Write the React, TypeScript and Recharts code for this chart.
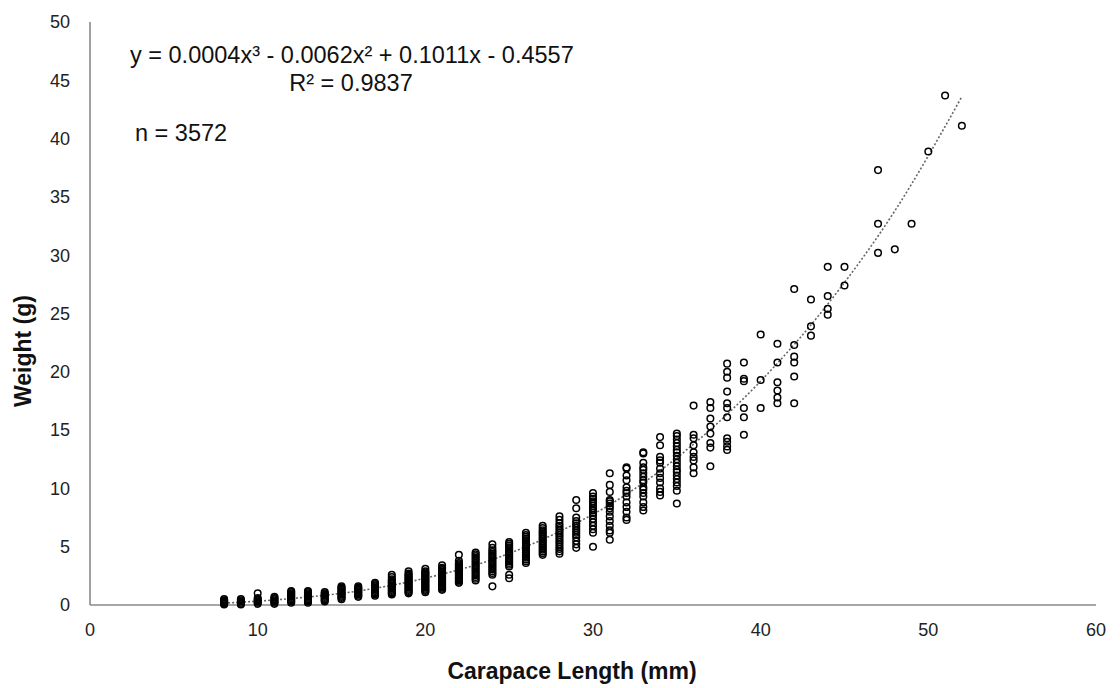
import React from 'react';
import { ComposedChart, Scatter, Line, XAxis, YAxis } from 'recharts';

// carapace length (mm) of each sampled column
const lengths = [
  8, 9, 10, 11, 12, 13, 14, 15, 16, 17, 18, 19, 20, 21, 22, 23, 24, 25, 26, 27, 28, 29, 30,
  31, 32, 33, 34, 35, 36, 37, 38, 39, 40, 41, 42, 43, 44, 45, 47, 48, 49, 50, 51, 52,
];

// weights (g) read from each column
const weights: number[][] = [
  [0.05, 0.1, 0.15, 0.2, 0.25, 0.3, 0.35, 0.4, 0.5],
  [0.05, 0.1, 0.2, 0.3, 0.4, 0.5],
  [0.1, 0.2, 0.3, 0.4, 0.5, 0.6, 1.0],
  [0.1, 0.2, 0.3, 0.4, 0.5, 0.6, 0.7],
  [0.2, 0.3, 0.4, 0.5, 0.6, 0.7, 0.8, 0.9, 1.0, 1.1, 1.2],
  [0.2, 0.3, 0.4, 0.5, 0.6, 0.7, 0.8, 0.9, 1.0, 1.1, 1.2],
  [0.3, 0.4, 0.5, 0.6, 0.7, 0.8, 0.9, 1.0, 1.1],
  [0.5, 0.6, 0.7, 0.8, 0.9, 1.0, 1.1, 1.2, 1.3, 1.4, 1.5, 1.6],
  [0.7, 0.8, 0.9, 1.0, 1.1, 1.2, 1.3, 1.4, 1.5, 1.6],
  [0.8, 0.9, 1.0, 1.1, 1.2, 1.3, 1.4, 1.5, 1.6, 1.7, 1.8, 1.9],
  [0.9, 1.0, 1.1, 1.2, 1.3, 1.4, 1.5, 1.6, 1.7, 1.8, 1.9, 2.0, 2.1, 2.2, 2.4, 2.6],
  [1.0, 1.1, 1.2, 1.3, 1.4, 1.5, 1.6, 1.7, 1.8, 1.9, 2.0, 2.1, 2.2, 2.3, 2.4, 2.5, 2.6, 2.7, 2.9],
  [1.1, 1.2, 1.3, 1.4, 1.5, 1.6, 1.7, 1.8, 1.9, 2.0, 2.1, 2.2, 2.3, 2.4, 2.5, 2.6, 2.7, 2.8, 2.9, 3.1],
  [1.3, 1.4, 1.5, 1.6, 1.7, 1.8, 1.9, 2.0, 2.1, 2.2, 2.3, 2.4, 2.5, 2.6, 2.7, 2.8, 2.9, 3.0, 3.1, 3.2, 3.4],
  [1.9, 2.0, 2.1, 2.2, 2.3, 2.4, 2.5, 2.6, 2.7, 2.8, 2.9, 3.0, 3.1, 3.2, 3.3, 3.4, 3.5, 3.6, 3.8, 4.3],
  [2.1, 2.25, 2.4, 2.55, 2.7, 2.85, 3.0, 3.15, 3.3, 3.45, 3.6, 3.75, 3.9, 4.05, 4.2, 4.35, 4.5],
  [1.6, 2.6, 2.75, 2.9, 3.05, 3.2, 3.35, 3.5, 3.65, 3.8, 3.95, 4.1, 4.25, 4.4, 4.55, 4.7, 4.9, 5.2],
  [2.3, 2.6, 3.3, 3.45, 3.6, 3.75, 3.9, 4.05, 4.2, 4.35, 4.5, 4.65, 4.8, 4.95, 5.1, 5.25, 5.4],
  [3.6, 3.75, 3.9, 4.05, 4.2, 4.35, 4.5, 4.65, 4.8, 4.95, 5.1, 5.25, 5.4, 5.55, 5.7, 5.85, 6.0, 6.2],
  [4.3, 4.45, 4.6, 4.75, 4.9, 5.05, 5.2, 5.35, 5.5, 5.65, 5.8, 5.95, 6.1, 6.25, 6.4, 6.6, 6.8],
  [4.4, 4.6, 4.8, 5.0, 5.2, 5.4, 5.6, 5.8, 6.0, 6.2, 6.4, 6.6, 6.8, 7.0, 7.3, 7.6],
  [4.9, 5.2, 5.5, 5.8, 6.0, 6.2, 6.4, 6.6, 6.8, 7.0, 7.2, 7.5, 8.3, 9.0],
  [5.0, 6.2, 6.5, 6.8, 7.1, 7.4, 7.7, 7.9, 8.1, 8.3, 8.5, 8.7, 8.9, 9.1, 9.3, 9.6],
  [5.6, 6.2, 6.4, 6.8, 7.2, 7.6, 8.0, 8.3, 8.5, 8.7, 8.9, 9.0, 9.7, 10.3, 11.3],
  [7.3, 7.5, 8.0, 8.4, 8.8, 9.3, 9.6, 9.8, 10.1, 10.7, 11.1, 11.7, 11.8],
  [8.1, 8.4, 8.8, 9.3, 9.6, 9.9, 10.1, 10.5, 10.7, 11.0, 11.3, 11.6, 11.8, 12.2, 13.0, 13.1],
  [9.4, 9.7, 10.0, 10.5, 10.9, 11.3, 11.7, 12.2, 12.4, 12.7, 13.7, 14.4],
  [8.7, 9.8, 10.2, 10.5, 10.8, 11.1, 11.4, 11.6, 11.9, 12.2, 12.5, 12.8, 13.1, 13.3, 13.6, 13.9, 14.2, 14.5, 14.7],
  [11.3, 11.8, 12.4, 12.7, 13.1, 13.7, 14.3, 14.6, 17.1],
  [11.9, 13.5, 13.9, 14.7, 15.3, 16.0, 16.9, 17.4],
  [13.3, 13.6, 14.0, 14.3, 16.1, 16.9, 17.3, 18.3, 19.5, 20.0, 20.7],
  [14.6, 16.1, 16.9, 19.2, 19.4, 20.8],
  [16.9, 19.3, 23.2],
  [17.3, 17.8, 18.4, 19.1, 20.8, 22.4],
  [17.3, 19.6, 20.8, 21.3, 22.3, 27.1],
  [23.1, 23.9, 26.2],
  [24.9, 25.4, 26.5, 29.0],
  [27.4, 29.0],
  [30.2, 32.7, 37.3],
  [30.5],
  [32.7],
  [38.9],
  [43.7],
  [41.1],
];

// dotted trendline
const trendX = [8, 12, 16, 20, 24, 28, 32, 36, 40, 44, 48, 52];
const trendY = [0.16, 0.55, 1.2, 2.3, 3.9, 6.3, 9.5, 13.8, 19.2, 25.8, 33.8, 43.6];

const xTicks = [0, 10, 20, 30, 40, 50, 60];
const yTicks = [0, 5, 10, 15, 20, 25, 30, 35, 40, 45, 50];

const points = lengths.flatMap((x, i) => weights[i].map((y) => ({ x, y })));
const trend = trendX.map((x, i) => ({ x, y: trendY[i] }));

const font = '"Liberation Sans", Arial, sans-serif';

const OpenCircle = (props: any) => {
  const { cx, cy } = props;
  if (cx == null || cy == null) return null;
  return <circle cx={cx} cy={cy} r={3.3} fill="none" stroke="#000" strokeWidth={1.5} />;
};

export default function App() {
  return (
    <div style={{ position: 'absolute', left: 0, top: 0, width: 1120, height: 688, background: '#fff' }}>
      <ComposedChart
        width={1120}
        height={688}
        margin={{ top: 22, right: 24, bottom: 43, left: 0 }}
        style={{ fontFamily: font }}
      >
        <XAxis
          type="number"
          dataKey="x"
          domain={[0, 60]}
          ticks={xTicks}
          height={40}
          tickLine={false}
          tickSize={0}
          tickMargin={18}
          axisLine={{ stroke: '#8a8a8a', strokeWidth: 1.6 }}
          tick={{ fontSize: 18, fill: '#222', fontFamily: font }}
        />
        <YAxis
          type="number"
          dataKey="y"
          domain={[0, 50]}
          ticks={yTicks}
          width={90}
          tickLine={false}
          tickSize={0}
          tickMargin={20}
          axisLine={{ stroke: '#8a8a8a', strokeWidth: 1.6 }}
          tick={{ fontSize: 18, fill: '#222', fontFamily: font }}
        />
        <Scatter data={points} dataKey="y" shape={OpenCircle} isAnimationActive={false} />
        <Line
          data={trend}
          dataKey="y"
          type="monotone"
          dot={false}
          stroke="#666"
          strokeWidth={1.6}
          strokeDasharray="2 2"
          isAnimationActive={false}
        />

        {/* trendline annotations */}
        <text x={130} y={63} fontSize={23.5} fill="#111" fontFamily={font}>
          y = 0.0004x³ - 0.0062x² + 0.1011x - 0.4557
        </text>
        <text x={351} y={91} fontSize={23.5} fill="#111" fontFamily={font} textAnchor="middle">
          R² = 0.9837
        </text>
        <text x={135} y={141} fontSize={23.5} fill="#111" fontFamily={font}>
          n = 3572
        </text>

        {/* axis titles */}
        <text x={572} y={679} fontSize={23} fontWeight="bold" fill="#111" fontFamily={font} textAnchor="middle">
          Carapace Length (mm)
        </text>
        <text
          x={0}
          y={0}
          transform="translate(31,351) rotate(-90)"
          fontSize={23}
          fontWeight="bold"
          fill="#111"
          fontFamily={font}
          textAnchor="middle"
        >
          Weight (g)
        </text>
      </ComposedChart>
    </div>
  );
}
